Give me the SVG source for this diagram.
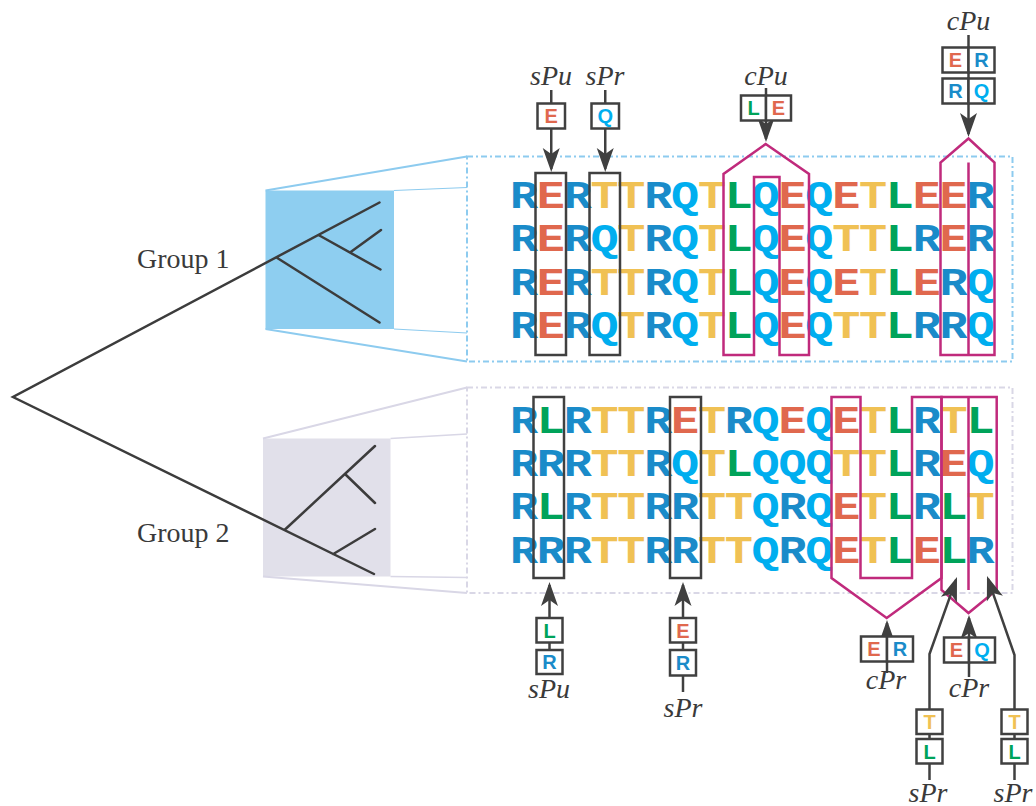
<svg xmlns="http://www.w3.org/2000/svg" width="1036" height="806" viewBox="0 0 1036 806">
<defs>
<style>
.mono{font-family:"Liberation Mono","DejaVu Sans Mono",monospace;font-weight:bold;font-size:39px;text-anchor:middle}
.r{fill:#1a8bc9}.q{fill:#00aeef}.e{fill:#e0684e}.t{fill:#f0c154}.l{fill:#00a35a}
.box{fill:#fff;stroke:#404040;stroke-width:2.5}
.bl{font-family:"Liberation Sans",Arial,sans-serif;font-weight:bold;font-size:20px;text-anchor:middle}
.lab{font-family:"Liberation Serif","Times New Roman",serif;font-style:italic;font-size:28px;fill:#3a3a3a;text-anchor:middle}
.grp{font-family:"Liberation Serif","Times New Roman",serif;font-size:28px;fill:#3a3a3a}
.conn{stroke:#404040;stroke-width:2.5;fill:none;marker-end:url(#ah)}
.mag{fill:none;stroke:#c02a7c;stroke-width:2.5;stroke-linejoin:miter}
.blk{fill:none;stroke:#404040;stroke-width:2.5}
.tree{stroke:#3c3c3c;stroke-width:2.5;fill:none;stroke-linecap:round}
.f1{fill:none;stroke:#8dcbef;stroke-width:2;stroke-dasharray:6 3 2 3}
.f2{fill:none;stroke:#d9d7e6;stroke-width:2;stroke-dasharray:6 3 2 3}
</style>
<marker id="ah" markerUnits="userSpaceOnUse" markerWidth="30" markerHeight="20" viewBox="-24 -10 30 20" refX="0" refY="0" orient="auto">
<path d="M3,0 L-21,-8.5 L-15,0 L-21,8.5 Z" fill="#404040"/>
</marker>
</defs>

<g id="tree">
<rect x="265.5" y="190.5" width="128.5" height="138.5" fill="#8ecef0"/>
<rect x="263" y="438.5" width="127.5" height="138" fill="#e1e0ea"/>
<g stroke="#8dcbef" fill="none">
<path d="M265.5,190.5 L467,156.5 M265.5,329 L467,361.5" stroke-width="2"/>
<path d="M394,190.5 L467,187.5 M394,329 L467,333" stroke-width="1"/>
</g>
<g stroke="#d9d7e6" fill="none">
<path d="M263,438.5 L467,387.5 M263,576.5 L467,593" stroke-width="2"/>
<path d="M390.5,438.5 L467,434 M390.5,576.5 L467,577.5" stroke-width="1.5"/>
</g>
<path class="tree" d="M379.5,202.5 L13,397 L374,574 M276.5,257.5 L379.5,322.5 M318.5,235 L380.5,269.5 M350,252.5 L381,230 M284.5,530 L375,446 M345,474 L375,503 M333.3,554 L375,529"/>
<text class="grp" x="137" y="268">Group 1</text>
<text class="grp" x="137" y="542">Group 2</text>
</g>

<g id="group1">
<rect class="f1" x="467" y="156.5" width="545.5" height="205"/>
<g transform="scale(1.2,1)">
<text class="mono" y="208" x="436.667 459.042 481.417 503.792 526.167 548.542 570.917 593.292 615.667 638.042 660.417 682.792 705.167 727.542 749.917 772.292 794.667 817.042"><tspan class="r">R</tspan><tspan class="e">E</tspan><tspan class="r">R</tspan><tspan class="t">T</tspan><tspan class="t">T</tspan><tspan class="r">R</tspan><tspan class="q">Q</tspan><tspan class="t">T</tspan><tspan class="l">L</tspan><tspan class="q">Q</tspan><tspan class="e">E</tspan><tspan class="q">Q</tspan><tspan class="e">E</tspan><tspan class="t">T</tspan><tspan class="l">L</tspan><tspan class="e">E</tspan><tspan class="e">E</tspan><tspan class="r">R</tspan></text>
<text class="mono" y="251.5" x="436.667 459.042 481.417 503.792 526.167 548.542 570.917 593.292 615.667 638.042 660.417 682.792 705.167 727.542 749.917 772.292 794.667 817.042"><tspan class="r">R</tspan><tspan class="e">E</tspan><tspan class="r">R</tspan><tspan class="q">Q</tspan><tspan class="t">T</tspan><tspan class="r">R</tspan><tspan class="q">Q</tspan><tspan class="t">T</tspan><tspan class="l">L</tspan><tspan class="q">Q</tspan><tspan class="e">E</tspan><tspan class="q">Q</tspan><tspan class="t">T</tspan><tspan class="t">T</tspan><tspan class="l">L</tspan><tspan class="r">R</tspan><tspan class="e">E</tspan><tspan class="r">R</tspan></text>
<text class="mono" y="295" x="436.667 459.042 481.417 503.792 526.167 548.542 570.917 593.292 615.667 638.042 660.417 682.792 705.167 727.542 749.917 772.292 794.667 817.042"><tspan class="r">R</tspan><tspan class="e">E</tspan><tspan class="r">R</tspan><tspan class="t">T</tspan><tspan class="t">T</tspan><tspan class="r">R</tspan><tspan class="q">Q</tspan><tspan class="t">T</tspan><tspan class="l">L</tspan><tspan class="q">Q</tspan><tspan class="e">E</tspan><tspan class="q">Q</tspan><tspan class="e">E</tspan><tspan class="t">T</tspan><tspan class="l">L</tspan><tspan class="e">E</tspan><tspan class="r">R</tspan><tspan class="q">Q</tspan></text>
<text class="mono" y="338.5" x="436.667 459.042 481.417 503.792 526.167 548.542 570.917 593.292 615.667 638.042 660.417 682.792 705.167 727.542 749.917 772.292 794.667 817.042"><tspan class="r">R</tspan><tspan class="e">E</tspan><tspan class="r">R</tspan><tspan class="q">Q</tspan><tspan class="t">T</tspan><tspan class="r">R</tspan><tspan class="q">Q</tspan><tspan class="t">T</tspan><tspan class="l">L</tspan><tspan class="q">Q</tspan><tspan class="e">E</tspan><tspan class="q">Q</tspan><tspan class="t">T</tspan><tspan class="t">T</tspan><tspan class="l">L</tspan><tspan class="r">R</tspan><tspan class="r">R</tspan><tspan class="q">Q</tspan></text>
</g>
<rect class="blk" x="535.5" y="173" width="30.5" height="182"/>
<rect class="blk" x="589.5" y="173" width="30.5" height="182"/>
<path class="mag" d="M723.5,355 V174 L765.7,144 L809,174 V355 H779.5 V177 H754 V355 Z"/>
<path class="mag" d="M940.5,355 V162.5 L968.5,138.5 L994.5,162.5 V355 Z M968.5,162.5 V355"/>
</g>

<g id="group2">
<rect class="f2" x="467" y="387.5" width="545.5" height="205.5"/>
<g transform="scale(1.2,1)">
<text class="mono" y="433" x="436.667 459.042 481.417 503.792 526.167 548.542 570.917 593.292 615.667 638.042 660.417 682.792 705.167 727.542 749.917 772.292 794.667 817.042"><tspan class="r">R</tspan><tspan class="l">L</tspan><tspan class="r">R</tspan><tspan class="t">T</tspan><tspan class="t">T</tspan><tspan class="r">R</tspan><tspan class="e">E</tspan><tspan class="t">T</tspan><tspan class="r">R</tspan><tspan class="q">Q</tspan><tspan class="e">E</tspan><tspan class="q">Q</tspan><tspan class="e">E</tspan><tspan class="t">T</tspan><tspan class="l">L</tspan><tspan class="r">R</tspan><tspan class="t">T</tspan><tspan class="l">L</tspan></text>
<text class="mono" y="476" x="436.667 459.042 481.417 503.792 526.167 548.542 570.917 593.292 615.667 638.042 660.417 682.792 705.167 727.542 749.917 772.292 794.667 817.042"><tspan class="r">R</tspan><tspan class="r">R</tspan><tspan class="r">R</tspan><tspan class="t">T</tspan><tspan class="t">T</tspan><tspan class="r">R</tspan><tspan class="q">Q</tspan><tspan class="t">T</tspan><tspan class="l">L</tspan><tspan class="q">Q</tspan><tspan class="q">Q</tspan><tspan class="q">Q</tspan><tspan class="t">T</tspan><tspan class="t">T</tspan><tspan class="l">L</tspan><tspan class="r">R</tspan><tspan class="e">E</tspan><tspan class="q">Q</tspan></text>
<text class="mono" y="519.5" x="436.667 459.042 481.417 503.792 526.167 548.542 570.917 593.292 615.667 638.042 660.417 682.792 705.167 727.542 749.917 772.292 794.667 817.042"><tspan class="r">R</tspan><tspan class="l">L</tspan><tspan class="r">R</tspan><tspan class="t">T</tspan><tspan class="t">T</tspan><tspan class="r">R</tspan><tspan class="r">R</tspan><tspan class="t">T</tspan><tspan class="t">T</tspan><tspan class="q">Q</tspan><tspan class="r">R</tspan><tspan class="q">Q</tspan><tspan class="e">E</tspan><tspan class="t">T</tspan><tspan class="l">L</tspan><tspan class="r">R</tspan><tspan class="l">L</tspan><tspan class="t">T</tspan></text>
<text class="mono" y="563" x="436.667 459.042 481.417 503.792 526.167 548.542 570.917 593.292 615.667 638.042 660.417 682.792 705.167 727.542 749.917 772.292 794.667 817.042"><tspan class="r">R</tspan><tspan class="r">R</tspan><tspan class="r">R</tspan><tspan class="t">T</tspan><tspan class="t">T</tspan><tspan class="r">R</tspan><tspan class="r">R</tspan><tspan class="t">T</tspan><tspan class="t">T</tspan><tspan class="q">Q</tspan><tspan class="r">R</tspan><tspan class="q">Q</tspan><tspan class="e">E</tspan><tspan class="t">T</tspan><tspan class="l">L</tspan><tspan class="e">E</tspan><tspan class="l">L</tspan><tspan class="r">R</tspan></text>
</g>
<rect class="blk" x="533.5" y="397" width="30.5" height="181"/>
<rect class="blk" x="670" y="397" width="31" height="181"/>
<path class="mag" d="M831.5,397 H860.5 V578 H912 V397 H941.5 V578 L886.7,618 L831.5,578 Z"/>
<path class="mag" d="M941.5,397 H996.7 V590 L968.5,613 L941.5,590 Z M968.5,397 V590"/>
</g>

<g id="connectors">
<path class="conn" d="M551.25,90 V169"/>
<path class="conn" d="M605.25,90 V169"/>
<path class="conn" d="M766,88 V139"/>
<path class="conn" d="M968.5,35 V134"/>
<path class="conn" d="M549.5,674 V585"/>
<path class="conn" d="M683,692 V585"/>
<path class="conn" d="M887,673 V623"/>
<path class="conn" d="M969,677 V618"/>
<path class="conn" d="M929.5,780 V654 L955.97,579.8"/>
<path class="conn" d="M1014.5,780 V655 L987.99,578.8"/>
</g>

<g id="top-sPu">
<text class="lab" x="551" y="85">sPu</text>
<rect class="box" x="537.5" y="103.5" width="27.5" height="25"/>
<text class="bl e" x="551.25" y="123">E</text>
</g>
<g id="top-sPr">
<text class="lab" x="605" y="85">sPr</text>
<rect class="box" x="591.5" y="103.5" width="27.5" height="25"/>
<text class="bl q" x="605.25" y="123">Q</text>
</g>
<g id="top-cPu-LE">
<text class="lab" x="766" y="85">cPu</text>
<rect class="box" x="741" y="95.5" width="25" height="25"/>
<rect class="box" x="766" y="95.5" width="25" height="25"/>
<text class="bl l" x="753.5" y="115">L</text>
<text class="bl e" x="778.5" y="115">E</text>
</g>
<g id="top-cPu-ER-RQ">
<text class="lab" x="968.5" y="30">cPu</text>
<rect class="box" x="942.5" y="47.5" width="26" height="25"/>
<rect class="box" x="968.5" y="47.5" width="26" height="25"/>
<rect class="box" x="942.5" y="78.5" width="26" height="25"/>
<rect class="box" x="968.5" y="78.5" width="26" height="25"/>
<text class="bl e" x="955.5" y="67">E</text>
<text class="bl r" x="981.5" y="67">R</text>
<text class="bl r" x="955.5" y="98">R</text>
<text class="bl q" x="981.5" y="98">Q</text>
</g>
<g id="bot-sPu">
<rect class="box" x="536.5" y="618" width="26" height="24.5"/>
<rect class="box" x="536.5" y="650" width="26" height="24"/>
<text class="bl l" x="549.5" y="637.5">L</text>
<text class="bl r" x="549.5" y="669">R</text>
<text class="lab" x="549" y="698">sPu</text>
</g>
<g id="bot-sPr">
<rect class="box" x="670" y="618" width="26" height="24.5"/>
<rect class="box" x="670" y="650" width="26" height="25.5"/>
<text class="bl e" x="683" y="637.5">E</text>
<text class="bl r" x="683" y="670">R</text>
<text class="lab" x="683" y="717">sPr</text>
</g>
<g id="bot-cPr-ER">
<rect class="box" x="861" y="636.5" width="26" height="25"/>
<rect class="box" x="887" y="636.5" width="26" height="25"/>
<text class="bl e" x="874" y="656">E</text>
<text class="bl r" x="900" y="656">R</text>
<text class="lab" x="886" y="689">cPr</text>
</g>
<g id="bot-cPr-EQ">
<rect class="box" x="944" y="637.5" width="25" height="25"/>
<rect class="box" x="969" y="637.5" width="26" height="25"/>
<text class="bl e" x="956.5" y="657">E</text>
<text class="bl q" x="982" y="657">Q</text>
<text class="lab" x="969" y="697">cPr</text>
</g>
<g id="bot-sPr-TL-1">
<rect class="box" x="916.5" y="709.5" width="26" height="24.5"/>
<rect class="box" x="916.5" y="739" width="26" height="24.5"/>
<text class="bl t" x="929.5" y="729">T</text>
<text class="bl l" x="929.5" y="758.5">L</text>
<text class="lab" x="928" y="802">sPr</text>
</g>
<g id="bot-sPr-TL-2">
<rect class="box" x="1001.5" y="709.5" width="26" height="24.5"/>
<rect class="box" x="1001.5" y="739" width="26" height="24.5"/>
<text class="bl t" x="1014.5" y="729">T</text>
<text class="bl l" x="1014.5" y="758.5">L</text>
<text class="lab" x="1013" y="802">sPr</text>
</g>
</svg>
